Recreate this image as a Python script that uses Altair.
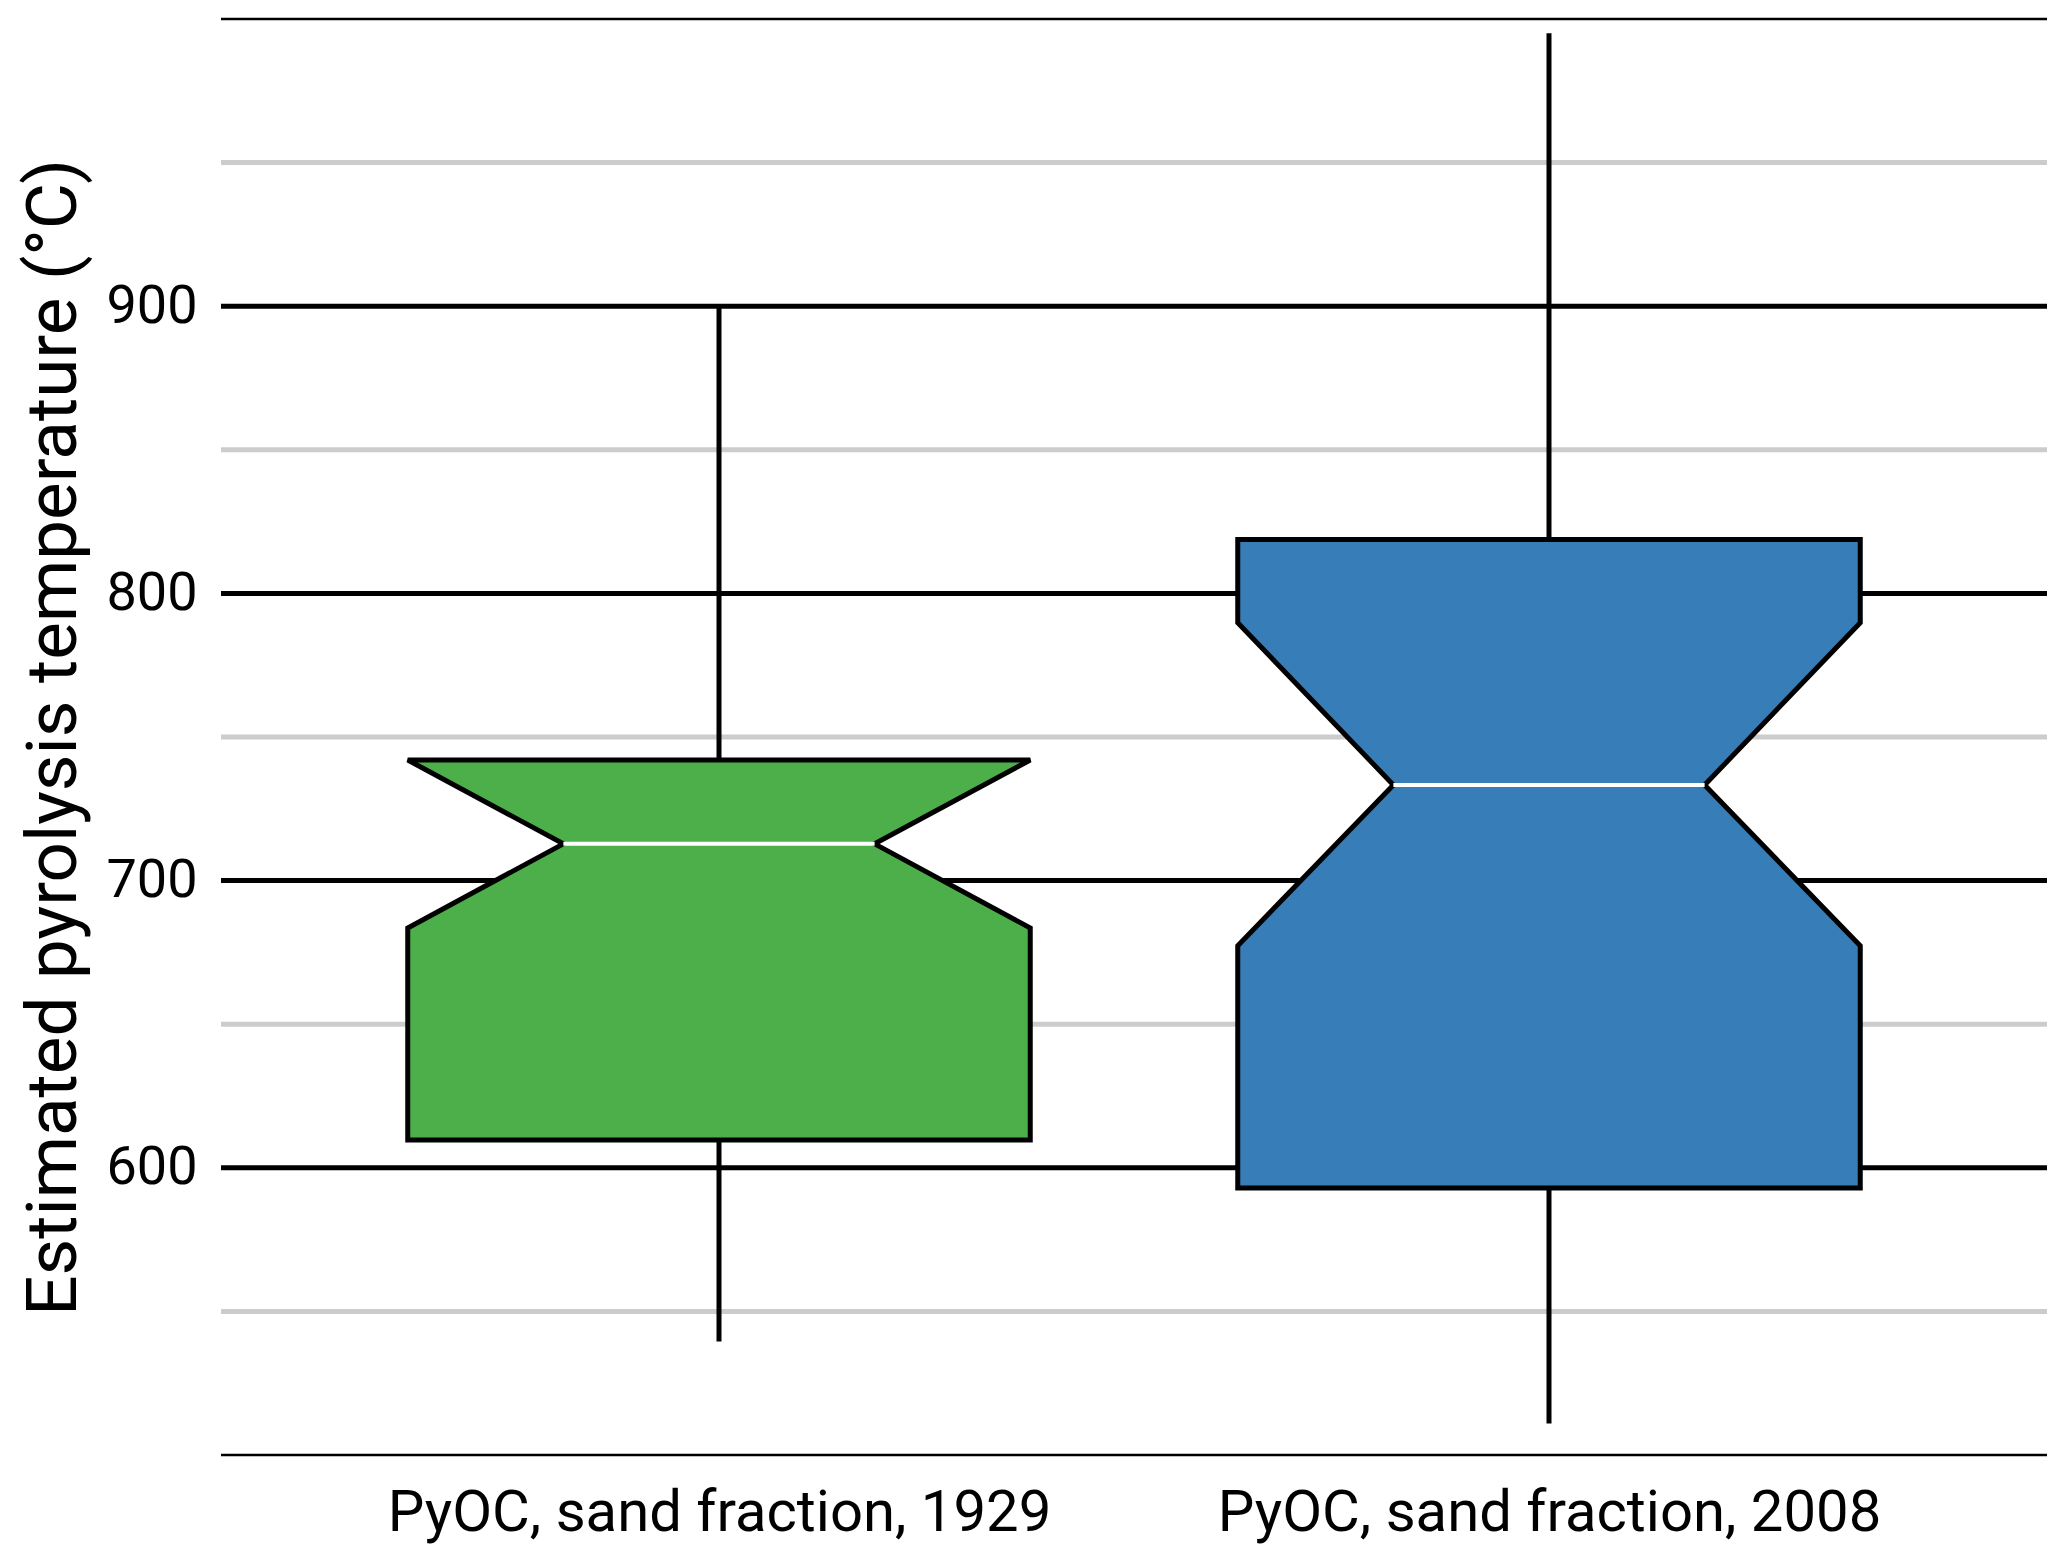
import altair as alt
import pandas as pd

# ---- data ----
categories = ["PyOC, sand fraction, 1929", "PyOC, sand fraction, 2008"]
positions = [1, 2]
whisker_low = [539.5, 511.0]
q1 = [609.7, 593.0]
notch_low = [683.5, 677.3]
median = [712.8, 733.3]
notch_high = [742.0, 789.8]
q3 = [742.0, 818.8]
whisker_high = [900.0, 995.0]
colors = ["#4daf4a", "#377eb8"]

major_ticks = [600, 700, 800, 900]
minor_ticks = [550, 650, 750, 850, 950]
frame_ticks = [500, 1000]

BOX_HALF = 0.375
NOTCH_HALF = 0.1875

FONT = "Roboto"
yscale = alt.Scale(domain=[500, 1000], nice=False, zero=False)
xscale = alt.Scale(domain=[0.4, 2.6], nice=False, zero=False)

label_expr = "datum.value == 1 ? '%s' : (datum.value == 2 ? '%s' : '')" % (categories[0], categories[1])

yaxis = alt.Axis(
    values=major_ticks,
    title="Estimated pyrolysis temperature (°C)",
    titleFont=FONT,
    titleFontSize=71,
    titleFontWeight="normal",
    titleColor="black",
    titleAngle=270,
    titleAlign="center",
    titleBaseline="alphabetic",
    titleX=-146,
    titleY=718,
    labelFont=FONT,
    labelFontSize=54,
    labelColor="black",
    labelPadding=24,
    ticks=False,
    tickSize=0,
    domain=False,
    grid=False,
)

xaxis = alt.Axis(
    values=positions,
    labelExpr=label_expr,
    title=None,
    labelFont=FONT,
    labelFontSize=58,
    labelColor="black",
    labelBaseline="alphabetic",
    labelPadding=75,
    labelLimit=0,
    ticks=False,
    tickSize=0,
    domain=False,
    grid=False,
    labelFlush=False,
    labelOverlap=False,
)

# ---- tables ----
major = pd.DataFrame({"y": major_ticks})
minor = pd.DataFrame({"y": minor_ticks})
frame = pd.DataFrame({"y": frame_ticks})

stats = pd.DataFrame({
    "cat": categories,
    "x": positions,
    "y": whisker_low,
    "y2": whisker_high,
    "med": median,
    "ml": [p - NOTCH_HALF for p in positions],
    "mr": [p + NOTCH_HALF for p in positions],
})

def box_polygon(i):
    c = positions[i]
    left = [
        (c - BOX_HALF, q1[i]),
        (c - BOX_HALF, notch_low[i]),
        (c - NOTCH_HALF, median[i]),
        (c - BOX_HALF, notch_high[i]),
    ]
    if q3[i] > notch_high[i]:
        left.append((c - BOX_HALF, q3[i]))
    right = [(2 * c - x, y) for (x, y) in reversed(left)]
    pts = left + right + [left[0], left[1]]
    return pd.DataFrame({
        "idx": list(range(len(pts))),
        "x": [p[0] for p in pts],
        "y": [p[1] for p in pts],
    })

minor_layer = alt.Chart(minor).mark_rule(color="#cccccc", strokeWidth=5).encode(
    y=alt.Y("y:Q", scale=yscale, axis=yaxis)
)
major_layer = alt.Chart(major).mark_rule(color="black", strokeWidth=5).encode(
    y=alt.Y("y:Q", scale=yscale, axis=yaxis)
)
frame_layer = alt.Chart(frame).mark_rule(color="black", strokeWidth=2.5).encode(
    y=alt.Y("y:Q", scale=yscale, axis=yaxis)
)
whisker_layer = alt.Chart(stats).mark_rule(color="black", strokeWidth=5).encode(
    x=alt.X("x:Q", scale=xscale, axis=xaxis),
    y=alt.Y("y:Q", scale=yscale, axis=yaxis),
    y2="y2:Q",
)

box_layers = []
for i in range(len(categories)):
    box_layers.append(
        alt.Chart(box_polygon(i)).mark_line(
            fill=colors[i], stroke="black", strokeWidth=5,
            strokeJoin="miter", interpolate="linear"
        ).encode(
            x=alt.X("x:Q", scale=xscale, axis=xaxis),
            y=alt.Y("y:Q", scale=yscale, axis=yaxis),
            order=alt.Order("idx:Q"),
        )
    )

median_layer = alt.Chart(stats).mark_rule(color="white", strokeWidth=4).encode(
    x=alt.X("ml:Q", scale=xscale, axis=xaxis),
    x2="mr:Q",
    y=alt.Y("med:Q", scale=yscale, axis=yaxis),
)

chart = alt.layer(
    minor_layer, major_layer, frame_layer, whisker_layer, *box_layers, median_layer
).properties(
    width=1826,
    height=1436,
    padding={"left": 213, "top": 11, "right": 10, "bottom": 92},
    autosize=alt.AutoSizeParams(type="none"),
    background="white",
).configure_view(stroke=None)

chart.save("out.html", embed_options={"renderer": "svg", "actions": False})
